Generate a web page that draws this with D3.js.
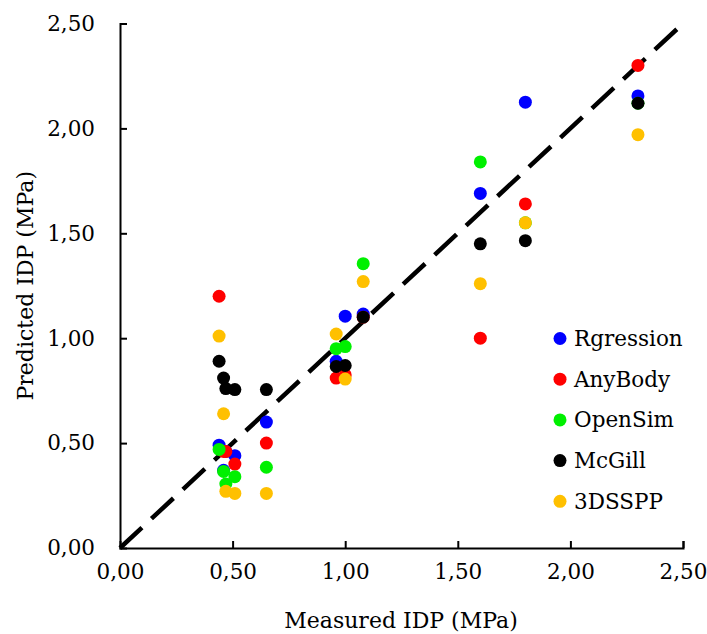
<!DOCTYPE html>
<html><head><meta charset="utf-8">
<script src="https://cdn.jsdelivr.net/npm/d3@7/dist/d3.min.js"></script>
<style>body{margin:0;background:#fff}svg{display:block}</style>
</head><body>
<script>
const measured = [0.44, 0.46, 0.47, 0.51, 0.65, 0.96, 1.00, 1.08, 1.60, 1.80, 2.30];
const rgression = [0.49, 0.37, 0.46, 0.44, 0.60, 0.89, 1.105, 1.115, 1.69, 2.125, 2.155];
const anybody   = [1.20, 0.46, 0.46, 0.40, 0.50, 0.81, 0.825, 1.10, 1.00, 1.64, 2.30];
const opensim   = [0.47, 0.365, 0.305, 0.34, 0.385, 0.95, 0.96, 1.355, 1.84, 1.55, 2.12];
const mcgill    = [0.89, 0.81, 0.76, 0.755, 0.755, 0.865, 0.87, 1.10, 1.45, 1.465, 2.12];
const dssp      = [1.01, 0.64, 0.27, 0.26, 0.26, 1.02, 0.805, 1.27, 1.26, 1.55, 1.97];
const seriesNames = ["Rgression", "AnyBody", "OpenSim", "McGill", "3DSSPP"];
const seriesColors = ["#0000FF", "#FF0000", "#00F000", "#000000", "#FFC000"];
const seriesValues = [rgression, anybody, opensim, mcgill, dssp];
const tickValues = [0, 0.5, 1.0, 1.5, 2.0, 2.5];

const W = 707, H = 634;
const m = {left: 120, right: 24, top: 23.5, bottom: 86};
const svg = d3.select("body").append("svg").attr("width", W).attr("height", H);
const x = d3.scaleLinear().domain([0, 2.5]).range([m.left, W - m.right]);
const y = d3.scaleLinear().domain([0, 2.5]).range([H - m.bottom, m.top]);
const fmt = d => d3.format(".2f")(d).replace(".", ",");
const font = "DejaVu Serif";

const xAxis = svg.append("g").attr("transform", `translate(0,${y(0)})`)
  .call(d3.axisBottom(x).tickValues(tickValues).tickSize(-7).tickPadding(16).tickFormat(fmt));
const yAxis = svg.append("g").attr("transform", `translate(${x(0)},0)`)
  .call(d3.axisLeft(y).tickValues(tickValues).tickSize(-7).tickPadding(25).tickFormat(fmt));
[xAxis, yAxis].forEach(g => {
  g.select(".domain").attr("stroke", "#000").attr("stroke-width", 2);
  g.selectAll(".tick line").attr("stroke", "#000").attr("stroke-width", 2);
  g.selectAll(".tick text").attr("font-family", font).attr("font-size", 21.5).attr("fill", "#000");
});
xAxis.selectAll(".tick").filter(d => d === 0).select("line").remove();
yAxis.selectAll(".tick").filter(d => d === 0).select("line").remove();

// identity line
svg.append("line")
  .attr("x1", x(0)).attr("y1", y(0)).attr("x2", x(2.5)).attr("y2", y(2.5))
  .attr("stroke", "#000").attr("stroke-width", 4.5).attr("stroke-dasharray", "30,13");

seriesValues.forEach((vals, i) => {
  svg.append("g").selectAll("circle")
    .data(vals.map((v, j) => [measured[j], v]).filter(d => d[1] != null))
    .join("circle")
    .attr("cx", d => x(d[0])).attr("cy", d => y(d[1])).attr("r", 6.5)
    .attr("fill", seriesColors[i]);
});

// legend
const lg = svg.append("g");
seriesNames.forEach((n, i) => {
  const cy = 338.5 + i * 40.7;
  lg.append("circle").attr("cx", 560).attr("cy", cy).attr("r", 6.5).attr("fill", seriesColors[i]);
  lg.append("text").attr("x", 574).attr("y", cy).attr("dy", "0.35em")
    .attr("font-family", font).attr("font-size", 21.5).text(n);
});

svg.append("text").attr("x", 401).attr("y", 620).attr("dy", "0.35em").attr("text-anchor", "middle")
  .attr("font-family", font).attr("font-size", 22).text("Measured IDP (MPa)");
svg.append("text").attr("transform", `translate(25,${(y(0) + y(2.5)) / 2}) rotate(-90)`)
  .attr("dy", "0.35em").attr("text-anchor", "middle")
  .attr("font-family", font).attr("font-size", 22).text("Predicted IDP (MPa)");
</script>
</body></html>
